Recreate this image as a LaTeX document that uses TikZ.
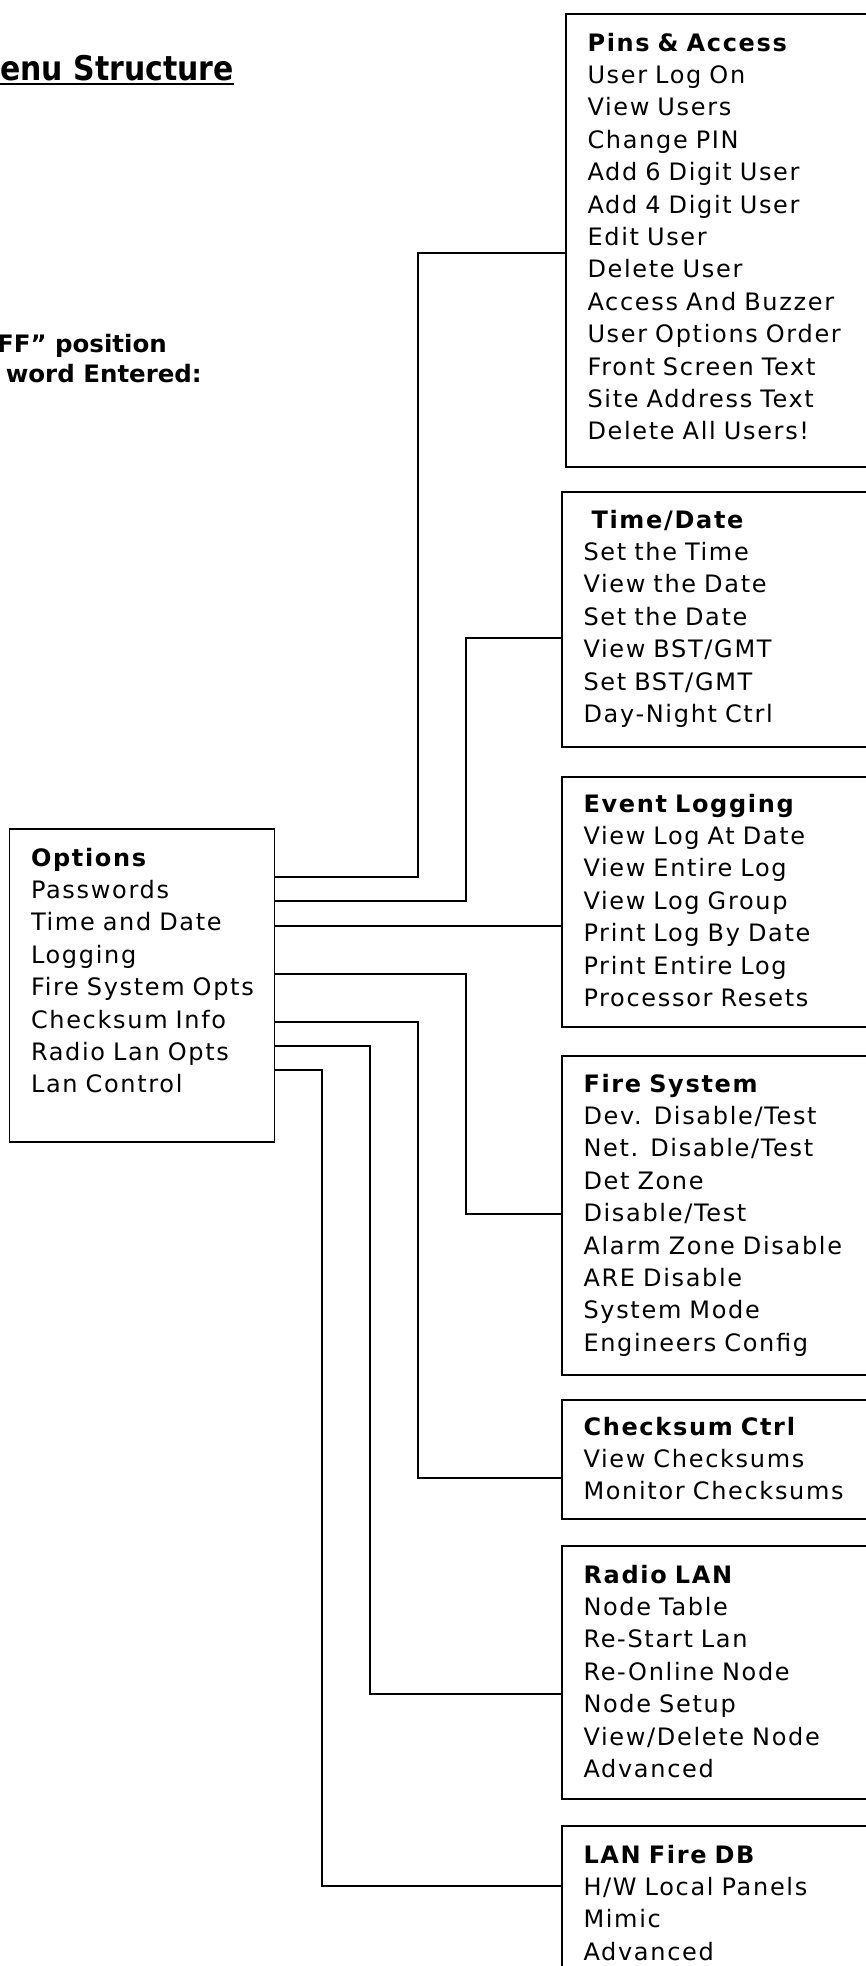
\documentclass[tikz,border=0pt]{standalone}
\usepackage{fontspec}
\setmainfont{DejaVu Sans}[LetterSpace=7]
\newfontfamily\titlefont{DejaVu Sans}[FakeStretch=0.88]
\newfontfamily\headfont{DejaVu Sans}[FakeStretch=1.02]
\usetikzlibrary{positioning}
\tikzset{
  menubox/.style={draw, line width=1.4pt, outer sep=0pt, inner xsep=21.5pt, inner ysep=0pt, text width=280pt, align=left, anchor=north west, font=\fontsize{24}{32.4}\selectfont},
  link/.style={line width=1.3pt},
  heading/.style={inner sep=0pt, font=\headfont\fontsize{24}{30}\selectfont\bfseries}
}

\begin{document}
\begin{tikzpicture}[x=1pt, y=-1pt]
      \path[use as bounding box, fill=white] (0,0) rectangle (866,1966);
      \node[inner sep=0pt, anchor=base west, font=\titlefont\fontsize{34}{40}\selectfont\bfseries] (t0) at (0,80) {enu Structure};
      \draw[line width=2.5pt] ([yshift=-4pt]t0.base west) -- ([yshift=-4pt]t0.base east);
      \node[heading, anchor=base east] (t1) at (167,352) {FF” position};
      \node[heading, anchor=base east] (t2) at (202,382) {word Entered:};
      \node[menubox, text width=222pt, text height=37pt, text depth=276pt] (n0) at (9.5,829) {\textbf{Options}\\ Passwords\\ Time~and~Date\\ Logging\\ Fire~System~Opts\\ Checksum~Info\\ Radio~Lan~Opts\\ Lan~Control};
      \node[menubox, text height=37pt, text depth=416pt] (n1) at (566,14) {\textbf{Pins \& Access}\\ User Log On\\ View Users\\ Change PIN\\ Add 6 Digit User\\ Add 4 Digit User\\ Edit User\\ Delete User\\ Access And Buzzer\\ User Options Order\\ Front Screen Text\\ Site Address Text\\ Delete All Users!};
      \node[menubox, below=25pt of n1.south west, anchor=north west, xshift=-4pt, text height=36pt, text depth=219pt] (n2) {\textbf{~Time/Date}\\ Set the Time\\ View the Date\\ Set the Date\\ View BST/GMT\\ Set BST/GMT\\ Day-Night Ctrl};
      \node[menubox, below=30pt of n2.south west, anchor=north west, text height=35pt, text depth=215pt] (n3) {\textbf{Event Logging}\\ View Log At Date\\ View Entire Log\\ View Log Group\\ Print Log By Date\\ Print Entire Log\\ Processor Resets};
      \node[menubox, below=29pt of n3.south west, anchor=north west, text height=36pt, text depth=283pt] (n4) {\textbf{Fire System}\\ Dev. Disable/Test\\ Net. Disable/Test\\ Det Zone\\ Disable/Test\\ Alarm Zone Disable\\ ARE Disable\\ System Mode\\ Engineers Config};
      \node[menubox, below=25pt of n4.south west, anchor=north west, text height=35pt, text depth=84pt] (n5) {\textbf{Checksum Ctrl}\\ View Checksums\\ Monitor Checksums};
      \node[menubox, below=27pt of n5.south west, anchor=north west, text height=37pt, text depth=216pt] (n6) {\textbf{Radio LAN}\\ Node Table\\ Re-Start Lan\\ Re-Online Node\\ Node Setup\\ View/Delete Node\\ Advanced};
      \node[menubox, below=27pt of n6.south west, anchor=north west, text height=37pt, text depth=200pt] (n7) {\textbf{LAN Fire DB}\\ H/W Local Panels\\ Mimic\\ Advanced};
      \coordinate (aux1) at ([yshift=-239pt]n1.north west);
      \coordinate (aux2) at ([yshift=-146pt]n2.north west);
      \coordinate (aux3) at ([yshift=-149pt]n3.north west);
      \coordinate (aux4) at ([yshift=-158pt]n4.north west);
      \coordinate (aux5) at ([yshift=-78pt]n5.north west);
      \coordinate (aux6) at ([yshift=-148pt]n6.north west);
      \coordinate (aux7) at ([yshift=-60pt]n7.north west);
      \draw[link] ([yshift=-48pt]n0.north east) -| ([xshift=-148pt]aux1) -- (aux1);
      \draw[link] ([yshift=-72pt]n0.north east) -| ([xshift=-96pt]aux2) -- (aux2);
      \draw[link] ([yshift=-97pt]n0.north east) -- (aux3);
      \draw[link] ([yshift=-145pt]n0.north east) -| ([xshift=-96pt]aux4) -- (aux4);
      \draw[link] ([yshift=-193pt]n0.north east) -| ([xshift=-144pt]aux5) -- (aux5);
      \draw[link] ([yshift=-217pt]n0.north east) -| ([xshift=-192pt]aux6) -- (aux6);
      \draw[link] ([yshift=-241pt]n0.north east) -| ([xshift=-240pt]aux7) -- (aux7);
\end{tikzpicture}
\end{document}
